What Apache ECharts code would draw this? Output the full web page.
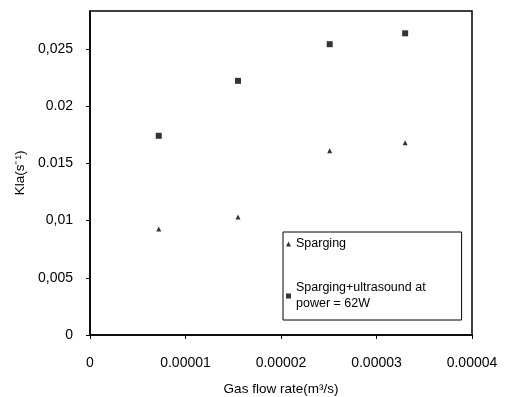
<!DOCTYPE html>
<html><head><meta charset="utf-8">
<script src="https://cdn.jsdelivr.net/npm/echarts@6/dist/echarts.min.js"></script>
<style>html,body{margin:0;padding:0;background:#fff}#c{width:506px;height:397px}</style>
</head><body><div id="c"></div>
<script>
const gasFlow = [0.0000072, 0.0000155, 0.0000251, 0.000033];
const sparging = [0.00925, 0.0103, 0.0161, 0.0168];
const spargingUS = [0.0174, 0.0222, 0.0254, 0.02635];
const yTickValues = [0, 0.005, 0.01, 0.015, 0.02, 0.025];
const yTickLabels = ["0", "0,005", "0,01", "0.015", "0.02", "0,025"];
const xTickValues = [0, 0.00001, 0.00002, 0.00003, 0.00004];
const xTickLabels = ["0", "0.00001", "0.00002", "0.00003", "0.00004"];
const seriesNames = ["Sparging", "Sparging+ultrasound at\npower = 62W"];

const font = "Liberation Sans, Arial, sans-serif";
const chart = echarts.init(document.getElementById('c'));
chart.setOption({
  animation: false,
  backgroundColor: '#fff',
  grid: {left: 90, right: 34, top: 11, bottom: 62, outerBoundsMode: 'none', containLabel: false,
    show: true, borderColor: '#000', borderWidth: 1.5, backgroundColor: 'transparent'},
  xAxis: {
    type: 'value', min: 0, max: 0.00004, interval: 0.00001,
    name: 'Gas flow rate(m³/s)', nameLocation: 'middle', nameGap: 47,
    nameTextStyle: {color: '#000', fontSize: 13.5, fontFamily: font},
    axisLine: {show: true, lineStyle: {color: '#000', width: 1.5}},
    axisTick: {show: true, length: 4, lineStyle: {color: '#000'}},
    axisLabel: {color: '#000', fontSize: 14, fontFamily: font, margin: 21,
      formatter: v => { const i = xTickValues.findIndex(t => Math.abs(t - v) < 1e-10); return i >= 0 ? xTickLabels[i] : ''; }},
    splitLine: {show: false}
  },
  yAxis: {
    type: 'value', min: 0, max: 0.0283,
    name: 'Kla(s⁻¹)', nameLocation: 'middle', nameGap: 61, nameRotate: 90,
    nameTextStyle: {color: '#000', fontSize: 13.5, fontFamily: font},
    axisLine: {show: true, lineStyle: {color: '#000', width: 1.5}},
    axisTick: {show: true, length: 4, lineStyle: {color: '#000'}, customValues: yTickValues},
    axisLabel: {color: '#000', fontSize: 14, fontFamily: font, margin: 17, customValues: yTickValues,
      formatter: v => { const i = yTickValues.findIndex(t => Math.abs(t - v) < 1e-9); return i >= 0 ? yTickLabels[i] : ''; }},
    splitLine: {show: false}
  },
  legend: {
    orient: 'vertical', left: 283, top: 232, width: 178,
    borderColor: '#000', borderWidth: 1, padding: [4, 36, 8, 3],
    itemGap: 28, itemWidth: 5, itemHeight: 5,
    textStyle: {color: '#000', fontSize: 12.5, fontFamily: font, lineHeight: 16},
    data: [{name: seriesNames[0], icon: 'triangle'}, {name: seriesNames[1], icon: 'rect'}]
  },
  series: [
    {name: seriesNames[0], type: 'scatter', symbol: 'triangle', symbolSize: 5, itemStyle: {color: '#000'},
      data: gasFlow.map((x, i) => [x, sparging[i]])},
    {name: seriesNames[1], type: 'scatter', symbol: 'rect', symbolSize: 6, itemStyle: {color: '#000'},
      data: gasFlow.map((x, i) => [x, spargingUS[i]])}
  ]
});
</script></body></html>
